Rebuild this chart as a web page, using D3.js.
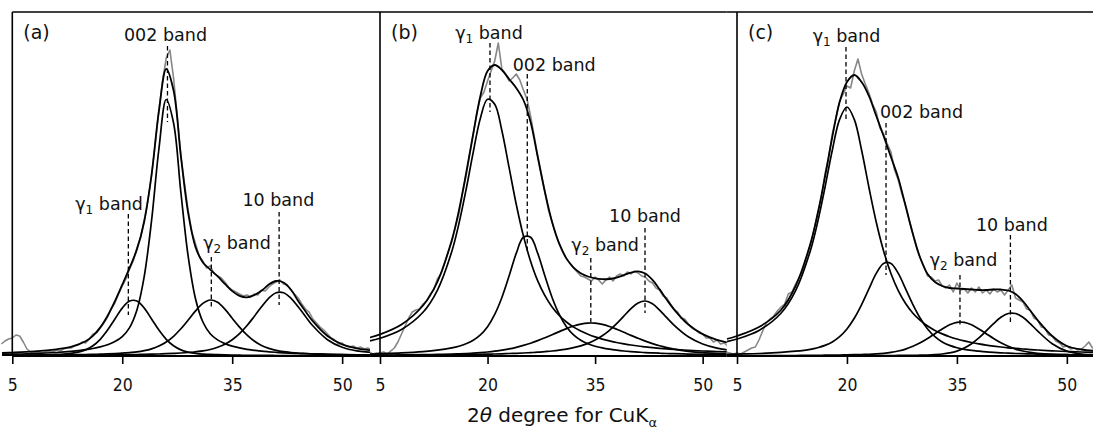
<!DOCTYPE html>
<html>
<head>
<meta charset="utf-8">
<script src="https://cdn.jsdelivr.net/npm/d3@7/dist/d3.min.js"></script>
<style>
  html, body { margin:0; padding:0; background:#fff; }
  svg { display:block; }
</style>
</head>
<body>
<svg id="chart" width="1093" height="432"></svg>
<script>
// ======================= DATA =======================
// 2-theta sampling (degrees) of the fitted curves
const fitX = [3.6,5,8,11,13,15,16,17,18,19,20,21,22,23,24,25,26,27,28,29,30,31,32,33,34,35,36,37,38,39,40,41,42,43,44,45,46,48,50,52,55];
// measured scan: starts at 3.5 deg, one reading every 0.5 deg
const scanStart = 3.5, scanStep = 0.5;
const xTicks = [5, 20, 35, 50];
const panelNames = ["(a)", "(b)", "(c)"];

// ---- panel (a) ----
const a_gamma1 = [0.5, 0.6,0.9,1.6,2.6,6.1,10.2,16.7,25.9,37.0,47.9, 55.0,55.0,47.9,37.0,25.9,16.7,10.2,6.1,3.8,2.6, 1.9,1.6,1.3,1.1,0.9,0.8,0.7,0.7,0.6,0.6, 0.5,0.5,0.5,0.4,0.4,0.4, 0.3,0.3,0.3,0.2];
const a_002    = [1.6, 1.8,2.4,3.5,4.6,6.3,7.5,9.1,11.3,14.4,19.4, 28.4,46.0,79.7,135.5,207,256.5,233,163.5,99.3,57.0, 34.0,22.3,16.1,12.4,9.9,8.1,6.7,5.7,4.8,4.2, 3.7,3.2,2.8,2.5,2.3,2.1, 1.7,1.4,1.2,1.0];
const a_gamma2 = [0.5, 0.6,0.75,1.0,1.2,1.5,1.6,1.8,2.1,2.4,2.8, 3.4,4.1,5.3,7.1,9.9,14.0,19.7,27.2,36.0,45.1, 52.6,56.0,53.7,46.8,37.8,28.9,21.1,15.0,10.6,7.6, 5.6,4.3,3.5,2.9,2.5,2.1, 1.7,1.3,1.1,0.8];
const a_10     = [0.4, 0.4,0.5,0.6,0.7,0.8,0.9,1.0,1.0,1.1,1.2, 1.35,1.5,1.6,1.8,2.0,2.3,2.6,3.0,3.5,4.2, 5.1,6.5,8.7,11.8,16.3,22.4,30.2,39.5,49.2,57.9, 63.3,63.3,57.9,49.2,39.5,30.2, 16.3,8.7,5.1,3.0];
const a_fit    = [3.0, 3.4,4.6,6.7,9.1,14.7,20.2,28.6,40.3,54.9,71.3, 88.2,106.6,134.5,181.4,244.8,287,265.5,199.8,142.6,108.9, 93.6,86.4,79.8,72.1,64.9,60.2,58.7,60.9,65.2,71.5, 75.0,73.5,66.5,55.0,44.7,34.8, 20.0,11.7,7.7,5.0];
const a_scan = [12,15,17,
  18,21,20,14,7,4,3,4,3,4,
  5,4,6,5,7,8,8,10,11,14,
  13,17,22,23,28,33,39,47,53,62,
  70,77,87,95,108,118,136,156,180,212,
  246,275,298,306,278,240,200,172,145,124,
  112,100,95,88,90,83,80,78,74,69,
  66,64,62,60,61,59,62,61,66,65,
  69,72,74,76,72,71,66,62,58,52,
  47,44,37,33,29,26,22,18,16,12,
  13,10,9,10,8,9,7,8,6,7,
  6];
// band markers: position (deg), dashed line top/bottom (intensity), label centre (deg) and baseline (intensity)
const a_bands = [
  {name:"002", sub:"",  pos:26.17, top:310, bottom:234, lx:25.9,  ly:315},
  {name:"γ",   sub:"1", pos:20.83, top:142, bottom:41,  lx:18.2,  ly:146},
  {name:"γ",   sub:"2", pos:32.15, top:99,  bottom:48,  lx:35.65, ly:107},
  {name:"10",  sub:"",  pos:41.4,  top:144, bottom:51,  lx:41.3,  ly:150}
];

// ---- panel (b) ----
const b_gamma1 = [15.1, 17.7,26.5,43.7,65.7,104.2,132.1,166.1,203.7,237.8,256.8, 251.8,225.3,188.6,151.8,120.1,94.8,75.1,60.3,49.0,40.5, 34.0,28.9,25.0,21.8,19.1,16.9,15.1,13.5,12.2,11.0, 10.0,9.2,8.4,7.7,7.1,6.6, 5.7,5.0,4.4,3.7];
const b_002    = [2.0, 2.3,3.1,4.4,5.8,8.1,9.8,12.2,15.7,21.1,29.3, 41.6,58.5,79.9,102.6,118.7,118.7,102.6,79.9,58.5,41.6, 29.3,21.1,15.7,12.2,9.8,8.1,6.8,5.8,5.0,4.4, 3.9,3.4,3.1,2.8,2.5,2.3, 1.9,1.6,1.4,1.1];
const b_gamma2 = [0.8, 0.9,1.1,1.4,1.6,2.0,2.2,2.5,2.9,3.4,4.0, 4.8,5.9,7.1,8.7,10.6,12.8,15.4,18.2,21.3,24.4, 27.4,30.0,31.9,32.9,32.8,31.6,29.5,26.8,23.8,20.6, 17.7,14.9,12.4,10.2,8.4,6.9, 4.7,3.3,2.5,1.7];
const b_10     = [0.6, 0.7,0.8,1.0,1.1,1.2,1.3,1.5,1.6,1.7,1.9, 2.0,2.2,2.5,2.7,3.0,3.4,3.8,4.4,5.0,5.8, 6.9,8.3,10.1,12.6,15.9,20.2,25.6,32.3,39.8,47.4, 53.1,55.0,52.2,45.9,38.3,30.9, 19.2,12.0,7.9,4.9];
const b_fit    = [18.5, 21.6,31.5,50.5,74.2,115.5,145.4,182.3,222,260,285, 291,286,277,268,256,234,199,164,134,112.3, 97.6,88.3,82.7,79.5,77.6,76.8,77.0,78.4,80.8,83.4, 84.7,82.5,76.1,66.6,56.3,46.7, 31.5,21.9,16.2,11.4];
const b_scan = [4,2,3,
  3,4,2,5,8,14,22,30,38,44,
  46,47,52,55,62,66,77,82,93,104,
  114,128,142,162,180,201,222,243,258,264,
  275,285,295,313,287,282,275,278,282,276,
  266,257,240,220,200,182,164,146,134,122,
  112,104,97,93,88,84,80,79,77,75,
  79,76,72,76,79,75,80,82,80,84,
  82,85,83,80,79,75,73,68,66,60,
  58,52,47,44,38,37,32,28,26,23,
  22,18,18,14,16,12,13,10,11,9,
  10];
const b_bands = [
  {name:"γ",   sub:"1", pos:20.34, top:313, bottom:244, lx:20.2, ly:317},
  {name:"002", sub:"",  pos:25.54, top:282, bottom:104, lx:29.3, ly:285},
  {name:"γ",   sub:"2", pos:34.4,  top:98,  bottom:33,  lx:36.4, ly:105},
  {name:"10",  sub:"",  pos:41.96, top:128, bottom:43,  lx:41.96, ly:134}
];

// ---- panel (c) ----
const c_gamma1 = [14.4, 17.0,25.6,42.8,65.4,105.1,133.8,168.5,205.7,236.6,249.0, 236.6,205.7,168.5,133.8,105.1,82.5,65.4,52.5,42.8,35.6, 30.0,25.6,22.1,19.3,17.0,15.1,13.5,12.1,10.9,9.9, 9.0,8.2,7.6,7.0,6.4,6.0, 5.2,4.5,4.0,3.3];
const c_002    = [1.6, 1.9,2.5,3.6,4.8,6.7,8.3,10.6,14.0,19.3,27.0, 37.7,51.4,67.2,82.6,92.6,92.6,82.6,67.2,51.4,37.7, 27.0,19.3,14.0,10.6,8.3,6.7,5.6,4.8,4.1,3.6, 3.2,2.8,2.5,2.3,2.1,1.9, 1.6,1.3,1.1,0.9];
const c_gamma2 = [0.3, 0.3,0.4,0.5,0.5,0.7,0.7,0.8,0.9,1.0,1.1, 1.3,1.5,1.7,2.1,2.7,3.6,5.0,6.9,9.7,13.2, 17.5,22.3,27.1,31.2,33.7,33.7,31.2,27.1,22.3,17.5, 13.2,9.7,6.9,5.0,3.6,2.7, 1.7,1.3,1.0,0.7];
const c_10     = [0.1, 0.1,0.1,0.1,0.2,0.2,0.2,0.2,0.2,0.24,0.26, 0.3,0.3,0.35,0.4,0.43,0.5,0.54,0.6,0.7,0.8, 1.0,1.4,2.0,3.1,4.9,7.9,12.3,18.1,25.1,32.4, 38.7,42.5,42.5,38.7,32.4,25.1, 12.3,4.9,2.0,0.8];
const c_fit    = [17, 20,29,46,70,112,142,179,219,254,274, 281,274,260,240,220,199,178,150,122,98, 82,74,70,68,67.5,67,66.5,66,66,66.5, 66.5,65.5,62,55,45.5,36, 20,10,6.5,4.5];
const c_scan = [4,3,2,
  3,2,4,6,8,9,16,25,33,37,
  40,45,49,52,62,64,72,79,85,99,
  110,126,143,158,182,198,222,238,255,262,
  270,268,285,297,282,272,263,252,244,228,
  222,212,204,186,176,162,151,136,122,108,
  98,90,80,79,75,76,70,68,71,64,
  73,66,67,63,68,64,69,63,66,62,
  67,64,66,61,66,71,58,56,54,47,
  46,38,36,29,28,21,20,15,13,9,
  10,7,8,6,7,10,14,8,10,9,
  8];
const c_bands = [
  {name:"γ",   sub:"1", pos:19.87, top:309, bottom:234, lx:19.94, ly:314},
  {name:"002", sub:"",  pos:25.33, top:233, bottom:81,  lx:30.17, ly:238},
  {name:"γ",   sub:"2", pos:35.42, top:81,  bottom:30,  lx:35.9,  ly:90},
  {name:"10",  sub:"",  pos:42.3,  top:121, bottom:34,  lx:42.5,  ly:125}
];

// ======================= LAYOUT =======================
const W = 1093, H = 432;
const plotTop = 12, plotBottom = 356;
const layout = [
  {left: 12.3, k: 7.33},
  {left: 380,  k: 7.17},
  {left: 737,  k: 7.33}
];
const panels = [
  {comps:[a_gamma1,a_002,a_gamma2,a_10], fit:a_fit, scan:a_scan, bands:a_bands},
  {comps:[b_gamma1,b_002,b_gamma2,b_10], fit:b_fit, scan:b_scan, bands:b_bands},
  {comps:[c_gamma1,c_002,c_gamma2,c_10], fit:c_fit, scan:c_scan, bands:c_bands}
];
const FONT = "'DejaVu Sans', 'Liberation Sans', Arial, sans-serif";
const TICKFONT = "'DejaVu Sans Condensed', 'Liberation Sans', Arial, sans-serif";

const svg = d3.select("#chart");
svg.append("rect").attr("width", W).attr("height", H).attr("fill", "#fff");

const y = d3.scaleLinear().domain([0, 344]).range([plotBottom, plotTop]);

panels.forEach((p, i) => {
  const L = layout[i];
  const x = d3.scaleLinear().domain([5, 55]).range([L.left, L.left + 50 * L.k]);
  const xStart = fitX[0];
  const x0 = i === 0 ? x(5) : x(xStart);
  const g = svg.append("g");

  if (i > 0) {
    g.append("rect").attr("x", x(xStart)).attr("y", 0)
      .attr("width", W - x(xStart)).attr("height", H).attr("fill", "#fff");
  }

  const clipId = "clip" + i;
  svg.append("defs").append("clipPath").attr("id", clipId)
    .append("rect").attr("x", i === 0 ? 0 : x(xStart)).attr("y", 0)
    .attr("width", x(55) - (i === 0 ? 0 : x(xStart))).attr("height", plotBottom);

  const cg = g.append("g").attr("clip-path", `url(#${clipId})`);

  // measured scan (grey)
  const scanPts = p.scan.map((v, j) => [scanStart + j * scanStep, v]);
  const scanLine = d3.line().x(d => x(d[0])).y(d => y(d[1])).curve(d3.curveLinear);
  cg.append("path").attr("d", scanLine(scanPts))
    .attr("fill", "none").attr("stroke", "#878787").attr("stroke-width", 1.6)
    .attr("stroke-linejoin", "round");

  const fitLine = d3.line().x((d, j) => x(fitX[j])).y(d => y(d))
    .curve(d3.curveCatmullRom.alpha(0.5));
  p.comps.forEach(c => {
    cg.append("path").attr("d", fitLine(c))
      .attr("fill", "none").attr("stroke", "#000").attr("stroke-width", 1.7);
  });
  cg.append("path").attr("d", fitLine(p.fit))
    .attr("fill", "none").attr("stroke", "#000").attr("stroke-width", 1.8);

  // frame: top border and left (y) axis
  g.append("line").attr("x1", x0).attr("x2", x(55)).attr("y1", plotTop).attr("y2", plotTop)
    .attr("stroke", "#000").attr("stroke-width", 1.5);
  g.append("line").attr("x1", x(5)).attr("x2", x(5)).attr("y1", plotTop).attr("y2", plotBottom)
    .attr("stroke", "#000").attr("stroke-width", 1.6);

  // x axis
  const ax = g.append("g").attr("transform", `translate(0,${plotBottom})`)
    .call(d3.axisBottom(x).tickValues(xTicks).tickSize(8).tickPadding(15).tickFormat(d3.format("d")));
  ax.select(".domain").remove();
  ax.selectAll(".tick line").attr("stroke", "#000").attr("stroke-width", 1.6);
  ax.selectAll(".tick text").attr("font-family", TICKFONT).attr("font-size", 17.5).attr("fill", "#111");
  g.append("line").attr("x1", x0).attr("x2", x(55)).attr("y1", plotBottom).attr("y2", plotBottom)
    .attr("stroke", "#000").attr("stroke-width", 2.2);

  // band markers
  p.bands.forEach(b => {
    g.append("line").attr("x1", x(b.pos)).attr("x2", x(b.pos))
      .attr("y1", y(b.top)).attr("y2", y(b.bottom))
      .attr("stroke", "#000").attr("stroke-width", 1.3).attr("stroke-dasharray", "4.5,3");
    const t = g.append("text").attr("x", x(b.lx)).attr("y", y(b.ly))
      .attr("text-anchor", "middle").attr("font-family", FONT).attr("font-size", 17.5).attr("fill", "#111");
    t.append("tspan").text(b.name);
    if (b.sub) {
      t.append("tspan").attr("font-size", 12).attr("dy", 4).text(b.sub);
      t.append("tspan").attr("dy", -4).text("\u00a0band");
    } else {
      t.append("tspan").text("\u00a0band");
    }
  });

  // panel letter
  g.append("text").attr("x", x(5) + 11).attr("y", 39)
    .attr("font-family", FONT).attr("font-size", 19).attr("fill", "#111").text(panelNames[i]);
});

// axis title
const title = svg.append("text").attr("x", 562).attr("y", 422).attr("text-anchor", "middle")
  .attr("font-family", FONT).attr("font-size", 20).attr("fill", "#111");
title.append("tspan").text("2");
title.append("tspan").attr("font-style", "italic").text("θ");
title.append("tspan").text(" degree for CuK");
title.append("tspan").attr("font-size", 13).attr("dy", 5).text("α");
</script>
</body>
</html>
